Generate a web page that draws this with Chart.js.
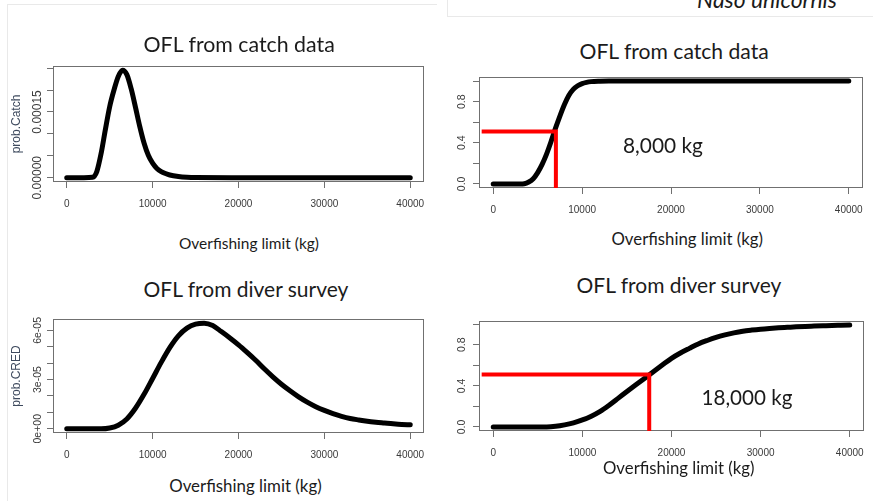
<!DOCTYPE html>
<html>
<head>
<meta charset="utf-8">
<script src="https://cdn.jsdelivr.net/npm/chart.js@4.4.1/dist/chart.umd.min.js"></script>
<style>
html,body{margin:0;padding:0;background:#fff;}
body{position:relative;width:873px;height:501px;overflow:hidden;}
canvas{position:absolute;display:block;}
.t{position:absolute;white-space:nowrap;font-family:Lato,"Open Sans",sans-serif;color:#1b1b1b;line-height:1;}
.ln{position:absolute;background:#e9e9e9;}
</style>
</head>
<body>
<div class="ln" style="left:7px;top:4px;width:430px;height:1px"></div>
<div class="ln" style="left:7px;top:4px;width:1px;height:497px"></div>
<div class="ln" style="left:447px;top:0;width:1px;height:16px"></div>
<div class="ln" style="left:447px;top:16px;width:426px;height:1px"></div>

<canvas id="c1" width="440" height="156" style="left:0;top:56px"></canvas>
<canvas id="c2" width="460" height="151" style="left:440px;top:67px"></canvas>
<canvas id="c3" width="440" height="154" style="left:0;top:309px"></canvas>
<canvas id="c4" width="460" height="150" style="left:440px;top:311px"></canvas>

<script>
// ---------- data ----------
const xTicks = [0, 10000, 20000, 30000, 40000];
const xTickLabels = ['0', '10000', '20000', '30000', '40000'];

// OFL from catch data: density (prob.Catch)
const catchX = [0, 1000, 2000, 3000, 3500, 4000, 4500, 5000, 5500, 6000, 6500, 7000, 7500, 8000, 8500, 9000, 9500, 10000, 10500, 11000, 11500, 12000, 13000, 14000, 15000, 20000, 25000, 30000, 35000, 40000];
const catchDensity = [0, 0, 0, 0.000001, 0.000014, 0.000055, 0.00011, 0.000162, 0.0002, 0.000231, 0.000245, 0.000235, 0.000203, 0.000161, 0.000117, 0.000079, 0.000051, 0.000033, 0.000021, 0.000014, 0.0000095, 0.0000062, 0.0000028, 0.0000011, 0.0000004, 0, 0, 0, 0, 0];
const catchDensityTicks = [0, 0.00005, 0.0001, 0.00015, 0.0002, 0.00025];
const catchDensityLabels = ['0.00000', '', '', '0.00015', '', ''];

// OFL from catch data: cumulative probability
const catchCdfX = [0, 1000, 2000, 3000, 3500, 4000, 4500, 5000, 5500, 6000, 6500, 7000, 7500, 8000, 8500, 9000, 9500, 10000, 10500, 11000, 12000, 13000, 15000, 20000, 25000, 30000, 35000, 40000];
const catchCdf = [0, 0, 0, 0, 0.002, 0.018, 0.05, 0.11, 0.19, 0.29, 0.41, 0.54, 0.66, 0.77, 0.86, 0.92, 0.955, 0.976, 0.988, 0.995, 0.999, 1, 1, 1, 1, 1, 1, 1];

// OFL from diver survey: density (prob.CRED)
const diverX = [0, 1000, 2000, 3000, 4000, 5000, 6000, 7000, 8000, 9000, 10000, 11000, 12000, 13000, 14000, 15000, 16000, 17000, 18000, 19000, 20000, 21000, 22000, 23000, 24000, 25000, 26000, 27000, 28000, 29000, 30000, 31000, 32000, 33000, 34000, 35000, 36000, 37000, 38000, 39000, 40000];
const diverDensity = [0, 0, 0, 0, 0, 0.05e-5, 0.22e-5, 0.6e-5, 1.25e-5, 2.1e-5, 3.07e-5, 4.05e-5, 4.95e-5, 5.67e-5, 6.14e-5, 6.38e-5, 6.44e-5, 6.3e-5, 5.93e-5, 5.54e-5, 5.12e-5, 4.66e-5, 4.18e-5, 3.66e-5, 3.17e-5, 2.72e-5, 2.32e-5, 1.95e-5, 1.63e-5, 1.35e-5, 1.12e-5, 0.92e-5, 0.76e-5, 0.63e-5, 0.54e-5, 0.46e-5, 0.4e-5, 0.35e-5, 0.3e-5, 0.26e-5, 0.24e-5];
const diverDensityTicks = [0, 1e-5, 2e-5, 3e-5, 4e-5, 5e-5, 6e-5];
const diverDensityLabels = ['0e+00', '', '', '3e-05', '', '', '6e-05'];

// OFL from diver survey: cumulative probability
const diverCdf = [0, 0, 0, 0, 0, 0, 0, 0.006, 0.02, 0.04, 0.068, 0.105, 0.152, 0.212, 0.278, 0.345, 0.41, 0.475, 0.54, 0.605, 0.668, 0.72, 0.765, 0.808, 0.842, 0.872, 0.896, 0.916, 0.932, 0.943, 0.952, 0.959, 0.965, 0.97, 0.975, 0.979, 0.982, 0.985, 0.988, 0.99, 0.992];

const probTicks = [0, 0.2, 0.4, 0.6, 0.8, 1.0];
const probLabels = ['0.0', '', '0.4', '', '0.8', ''];

// red 50% reference lines (catch, diver)
const refOFL = [7050, 17500];
const refProb = [0.51, 0.51];
const refStartX = -1300;

// ---------- styling ----------
const TICKFONT = '"Liberation Sans", Arial, sans-serif';
const AXIS = '#707070';
const LABEL = '#3a3a3a';
const YTITLE = '#3e4a5e';

const mctx = document.createElement('canvas').getContext('2d');
function textW(txt, font) { mctx.font = font; return mctx.measureText(txt).width; }
function widest(labels, size) {
  return Math.max(...labels.map(l => textW(l, size + 'px ' + TICKFONT)));
}
function rRange(arr) {
  const lo = Math.min(...arr), hi = Math.max(...arr), p = 0.04 * (hi - lo);
  return [lo - p, hi + p];
}
const xr = rRange([catchX[0], catchX[catchX.length - 1]]);
const pts = (xs, ys) => xs.map((x, i) => ({x: x, y: ys[i]}));

const boxPlugin = {
  id: 'rbox',
  beforeDatasetsDraw(chart) {
    const {ctx, chartArea: a} = chart;
    ctx.save();
    ctx.strokeStyle = AXIS;
    ctx.lineWidth = 1;
    ctx.strokeRect(Math.round(a.left) + 0.5, Math.round(a.top) + 0.5, Math.round(a.right - a.left) - 1, Math.round(a.bottom - a.top) - 1);
    ctx.restore();
  }
};

function xScale(h) {
  return {
    type: 'linear', position: 'bottom', min: xr[0], max: xr[1],
    afterBuildTicks: s => { s.ticks = xTicks.map(v => ({value: v})); },
    afterFit: s => { s.height = h; },
    grid: {display: true, drawOnChartArea: false, drawTicks: true, tickLength: 6, color: AXIS, lineWidth: 1},
    border: {display: false},
    ticks: {font: {family: TICKFONT, size: 10}, color: LABEL, padding: 10, minRotation: 0, maxRotation: 0, autoSkip: false,
      callback: (v, i) => xTickLabels[i]}
  };
}
function yScale(o) {
  const tl = 6;
  const w = widest(o.labels, o.fs);
  const pad = o.labelDist - tl - w / 2;
  return {
    type: 'linear', position: 'left', min: o.range[0], max: o.range[1],
    afterBuildTicks: s => { s.ticks = o.ticks.map(v => ({value: v})); },
    afterFit: s => { s.width = o.width; },
    grid: {display: true, drawOnChartArea: false, drawTicks: true, tickLength: tl, color: AXIS, lineWidth: 1},
    border: {display: false},
    ticks: {font: {family: TICKFONT, size: o.fs}, color: LABEL, minRotation: 90, maxRotation: 90, crossAlign: 'center',
      padding: pad, autoSkip: false, callback: (v, i) => o.labels[i]},
    title: o.title ? {display: true, text: o.title, font: {family: TICKFONT, size: 12}, color: YTITLE,
      padding: {top: o.titleX - 7.2, bottom: 0}} : {display: false}
  };
}
function curve(data) {
  return {type: 'line', data: data, borderColor: '#000', borderWidth: 5, pointRadius: 0,
    cubicInterpolationMode: 'monotone', borderCapStyle: 'round', borderJoinStyle: 'round', fill: false, order: 1};
}
function redLine(k, yMin) {
  return {type: 'line', data: [{x: refStartX, y: refProb[k]}, {x: refOFL[k], y: refProb[k]}, {x: refOFL[k], y: yMin}],
    borderColor: '#ff0000', borderWidth: 4, pointRadius: 0, tension: 0, fill: false, order: 0,
    borderJoinStyle: 'miter', borderCapStyle: 'butt'};
}
function make(id, datasets, ys, xh, pad) {
  return new Chart(document.getElementById(id), {
    type: 'line',
    data: {datasets: datasets},
    options: {
      animation: false, responsive: false, devicePixelRatio: 1, events: [],
      layout: {padding: pad},
      plugins: {legend: {display: false}, tooltip: {enabled: false}, title: {display: false}},
      scales: {x: xScale(xh), y: ys}
    },
    plugins: [boxPlugin]
  });
}

// Panel 1: catch density  (plot box 53..424 x 66..182)
const y1 = rRange(catchDensity);
make('c1', [curve(pts(catchX, catchDensity))],
  yScale({range: y1, ticks: catchDensityTicks, labels: catchDensityLabels, fs: 12, width: 53, labelDist: 15, title: 'prob.Catch', titleX: 17}),
  30, {top: 10, right: 16, left: 0, bottom: 0});

// Panel 2: catch cumulative  (plot box 479..863 x 77..188)
const y2 = rRange(catchCdf);
make('c2', [redLine(0, y2[0]), curve(pts(catchCdfX, catchCdf))],
  yScale({range: y2, ticks: probTicks, labels: probLabels, fs: 10.5, width: 39, labelDist: 16.5}),
  30, {top: 10, right: 37, left: 0, bottom: 0});

// Panel 3: diver density  (plot box 53..424 x 319..433)
const y3 = rRange(diverDensity);
make('c3', [curve(pts(diverX, diverDensity))],
  yScale({range: y3, ticks: diverDensityTicks, labels: diverDensityLabels, fs: 10.5, width: 53, labelDist: 14.5, title: 'prob.CRED', titleX: 16.7}),
  30, {top: 10, right: 16, left: 0, bottom: 0});

// Panel 4: diver cumulative  (plot box 479..864 x 321..431)
const y4 = rRange(diverCdf);
make('c4', [redLine(1, y4[0]), curve(pts(diverX, diverCdf))],
  yScale({range: y4, ticks: probTicks, labels: probLabels, fs: 10.5, width: 39, labelDist: 16.5}),
  30, {top: 10, right: 36, left: 0, bottom: 0});

// ---------- slide text ----------
const texts = [
  {text: 'Naso unicornis', cx: 767, base: 7.5, w: 140, italic: true},
  {text: 'OFL from catch data', cx: 239, base: 51.7, w: 192},
  {text: 'OFL from catch data', cx: 674, base: 59, w: 190},
  {text: 'OFL from diver survey', cx: 246, base: 296.5, w: 206},
  {text: 'OFL from diver survey', cx: 679, base: 292.7, w: 206},
  {text: 'Overfishing limit (kg)', cx: 249, base: 249, w: 140},
  {text: 'Overfishing limit (kg)', cx: 687.5, base: 244.5, w: 151.5},
  {text: 'Overfishing limit (kg)', cx: 245.7, base: 492.3, w: 152.5},
  {text: 'Overfishing limit (kg)', cx: 679, base: 474.3, w: 151.5},
  {text: '8,000 kg', cx: 663, base: 152.7, w: 80},
  {text: '18,000 kg', cx: 747, base: 404.5, w: 91}
];
texts.forEach(t => {
  const style = t.italic ? 'italic ' : '';
  const size = 100 * t.w / textW(t.text, style + '100px Lato');
  const d = document.createElement('div');
  d.className = 't';
  d.style.fontStyle = t.italic ? 'italic' : 'normal';
  d.style.fontSize = size.toFixed(2) + 'px';
  const s = document.createElement('span');
  s.textContent = t.text;
  const mk = document.createElement('span');
  mk.style.cssText = 'display:inline-block;width:0;height:0;vertical-align:baseline';
  d.appendChild(s); d.appendChild(mk);
  document.body.appendChild(d);
  d.style.left = (t.cx - s.offsetWidth / 2).toFixed(1) + 'px';
  d.style.top = (t.base - mk.offsetTop).toFixed(1) + 'px';
});
</script>
</body>
</html>
